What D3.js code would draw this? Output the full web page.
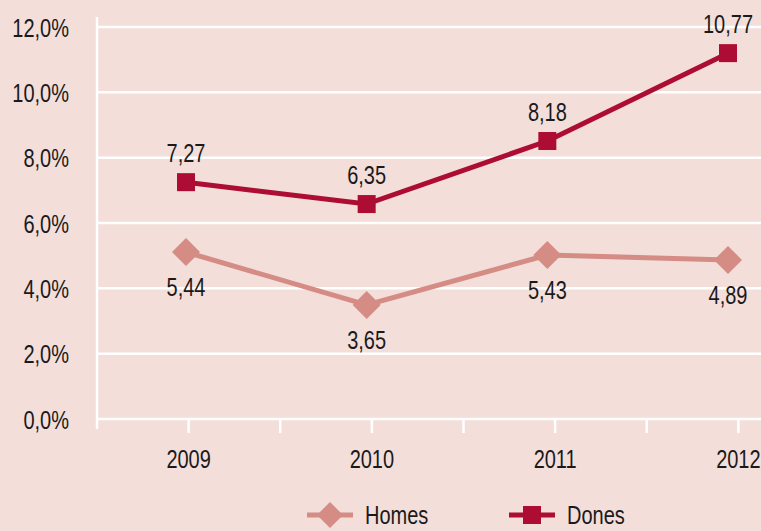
<!DOCTYPE html>
<html><head><meta charset="utf-8">
<script src="https://cdn.jsdelivr.net/npm/d3@7"></script>
<style>
body{margin:0;background:#f3deda;}
svg{display:block;}
text{font-family:"Liberation Sans",Arial,sans-serif;fill:#1a1a1a;}
</style>
</head><body>
<svg id="chart" width="761" height="531"></svg>
<script>
// ---- data ----
const years = ["2009", "2010", "2011", "2012"];
const homesValues = [5.11, 3.49, 5.02, 4.87];   // plotted positions
const donesValues = [7.25, 6.58, 8.51, 11.20];
const homesLabels = ["5,44", "3,65", "5,43", "4,89"];
const donesLabels = ["7,27", "6,35", "8,18", "10,77"];
const yTicks = [0, 2, 4, 6, 8, 10, 12];
const seriesNames = ["Homes", "Dones"];

// ---- styles ----
const bg = "#f3deda";
const homesColor = "#d48c85";
const donesColor = "#ad0d32";
const fontSize = 25;
const S = 0.8; // horizontal squeeze to imitate a condensed face

function squeeze(sel) {
  sel.each(function () {
    const t = d3.select(this);
    const x = +t.attr("x") || 0;
    t.attr("x", x / S).attr("transform", `scale(${S},1)`);
  });
}

const svg = d3.select("#chart");
svg.append("rect").attr("width", 761).attr("height", 531).attr("fill", bg);

const y = d3.scaleLinear().domain([0, 12]).range([419, 27]);
const xBand = d3.scaleBand().domain(years).range([97, 830]).padding(0);
const xPt = d3.scalePoint().domain(years).range([186, 728]);

// gridlines
svg.append("g").selectAll("line").data(yTicks).join("line")
  .attr("x1", 97).attr("x2", 761)
  .attr("y1", d => y(d)).attr("y2", d => y(d))
  .attr("stroke", "#fff").attr("stroke-width", 2.5);

// y axis
const yAxis = d3.axisLeft(y).tickValues(yTicks)
  .tickFormat(d => d.toFixed(1).replace(".", ",") + "%")
  .tickSize(0).tickPadding(28);
const gy = svg.append("g").attr("transform", "translate(97,0)").call(yAxis);
gy.select(".domain").remove();
gy.selectAll("text").style("font-size", fontSize + "px").attr("dy", "0.36em").call(squeeze);

svg.append("line").attr("x1", 97).attr("x2", 97).attr("y1", 17).attr("y2", 429)
  .attr("stroke", "#fff").attr("stroke-width", 2.5);

// x axis
const xAxis = d3.axisBottom(xBand).tickSize(13).tickPadding(17);
const gx = svg.append("g").attr("transform", "translate(0,420)").call(xAxis);
gx.select(".domain").remove();
gx.selectAll("line").attr("stroke", "#fff").attr("stroke-width", 2.5);
gx.selectAll("text").style("font-size", fontSize + "px").call(squeeze);
// boundary ticks
svg.append("g").selectAll("line").data(years.slice(1)).join("line")
  .attr("x1", d => xBand(d)).attr("x2", d => xBand(d))
  .attr("y1", 420).attr("y2", 433)
  .attr("stroke", "#fff").attr("stroke-width", 2.5);

// lines
const line = d3.line().x((d, i) => xPt(years[i])).y(d => y(d));
svg.append("path").datum(homesValues).attr("d", line)
  .attr("fill", "none").attr("stroke", homesColor).attr("stroke-width", 5);
svg.append("path").datum(donesValues).attr("d", line)
  .attr("fill", "none").attr("stroke", donesColor).attr("stroke-width", 5);

// markers
const diamond = (cx, cy, r) => `M${cx},${cy - r}L${cx + r},${cy}L${cx},${cy + r}L${cx - r},${cy}Z`;
svg.append("g").selectAll("path").data(homesValues).join("path")
  .attr("d", (d, i) => diamond(xPt(years[i]), y(d), 14))
  .attr("fill", homesColor);
svg.append("g").selectAll("rect").data(donesValues).join("rect")
  .attr("x", (d, i) => xPt(years[i]) - 9).attr("y", d => y(d) - 9)
  .attr("width", 18).attr("height", 18)
  .attr("fill", donesColor);

// data labels
svg.append("g").selectAll("text").data(donesValues).join("text")
  .attr("x", (d, i) => xPt(years[i])).attr("y", d => y(d) - 29)
  .attr("dy", "0.36em").attr("text-anchor", "middle")
  .style("font-size", fontSize + "px")
  .text((d, i) => donesLabels[i]).call(squeeze);
svg.append("g").selectAll("text").data(homesValues).join("text")
  .attr("x", (d, i) => xPt(years[i])).attr("y", d => y(d) + 35)
  .attr("dy", "0.36em").attr("text-anchor", "middle")
  .style("font-size", fontSize + "px")
  .text((d, i) => homesLabels[i]).call(squeeze);

// legend
const lg = svg.append("g");
const legendX = [330, 532];
const legendY = 515;
lg.append("line").attr("x1", legendX[0] - 23).attr("x2", legendX[0] + 23)
  .attr("y1", legendY).attr("y2", legendY).attr("stroke", homesColor).attr("stroke-width", 5);
lg.append("path").attr("d", diamond(legendX[0], legendY, 13)).attr("fill", homesColor);
lg.append("line").attr("x1", legendX[1] - 23).attr("x2", legendX[1] + 23)
  .attr("y1", legendY).attr("y2", legendY).attr("stroke", donesColor).attr("stroke-width", 5);
lg.append("rect").attr("x", legendX[1] - 9).attr("y", legendY - 9).attr("width", 18).attr("height", 18)
  .attr("fill", donesColor);
lg.selectAll("text").data(seriesNames).join("text")
  .attr("x", (d, i) => legendX[i] + 35).attr("y", legendY).attr("dy", "0.36em")
  .style("font-size", fontSize + "px")
  .text(d => d).call(squeeze);
</script>
</body></html>
